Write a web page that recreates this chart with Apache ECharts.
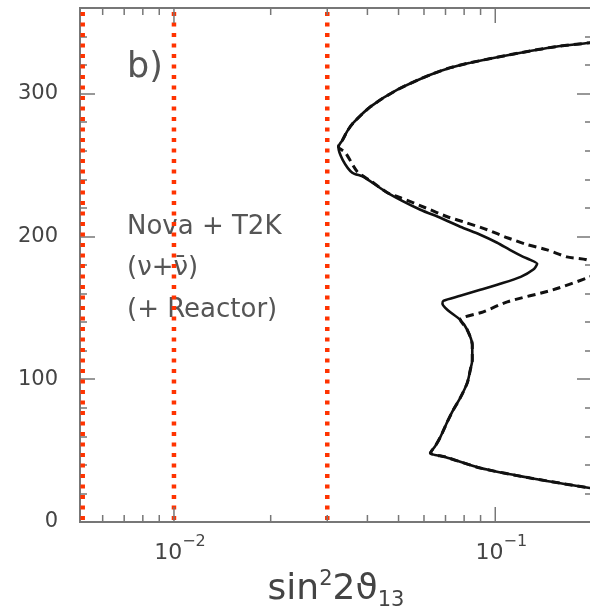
<!DOCTYPE html>
<html>
<head>
<meta charset="utf-8">
<script src="https://cdn.jsdelivr.net/npm/echarts@6/dist/echarts.min.js"></script>
<style>
  html, body { margin: 0; padding: 0; background: #fff; }
  #main { width: 590px; height: 607px; }
</style>
</head>
<body>
<div id="main"></div>
<script>
// solid curve: [sin^2 2theta13, delta]
const solidCurve = [
  [0.245, 339], [0.197, 335.7], [0.154, 332.9], [0.120, 328.7], [0.0836, 321.7],
  [0.0725, 318.2], [0.0628, 313.3], [0.0496, 302.8], [0.0409, 290.9], [0.0362, 279.7],
  [0.0347, 274.1], [0.0335, 267.7], [0.0325, 262.8], [0.0335, 253.7], [0.0359, 244.6],
  [0.0389, 241.8], [0.0462, 230.6], [0.0585, 218.7], [0.0675, 213.1], [0.0778, 206.8],
  [0.0898, 201.2], [0.1014, 195.6], [0.111, 190.6], [0.1222, 185.7], [0.1285, 183.6],
  [0.135, 180.8], [0.131, 176.6], [0.120, 171.7], [0.1036, 166.8], [0.0898, 162.6],
  [0.0778, 158.4], [0.0689, 154.9], [0.0685, 152.8], [0.0709, 148.6], [0.0778, 141.6],
  [0.0818, 134.6], [0.0848, 124.1], [0.0848, 113.5], [0.0836, 106.5], [0.0818, 97.4],
  [0.0778, 86.9], [0.0740, 78.5], [0.0709, 70.1], [0.0675, 59.6], [0.0651, 53.3],
  [0.0628, 48.4], [0.0699, 45.6], [0.0898, 37.8], [0.1285, 30.8], [0.197, 23.8],
  [0.263, 19.6]
];
// dashed curve
const dashedCurve = [
  [0.245, 339], [0.197, 335.7], [0.154, 332.9], [0.120, 328.7], [0.0836, 321.7],
  [0.0725, 318.2], [0.0628, 313.3], [0.0496, 302.8], [0.0409, 290.9], [0.0362, 279.7],
  [0.0347, 274.1], [0.0335, 267.7], [0.0325, 262.8], [0.0342, 258.6], [0.0372, 245.3],
  [0.0409, 239.0], [0.0462, 230.6], [0.0507, 227.1], [0.0606, 220.1], [0.0709, 213.8],
  [0.0795, 210.3], [0.0944, 204.7], [0.109, 199.1], [0.126, 194.2], [0.145, 190.6],
  [0.167, 185.7], [0.193, 183.6], [0.22, 177.3], [0.197, 171.7], [0.151, 162.6],
  [0.109, 154.2], [0.0918, 147.2], [0.0778, 141.6],
  [0.0818, 134.6], [0.0848, 124.1], [0.0848, 113.5], [0.0836, 106.5], [0.0818, 97.4],
  [0.0778, 86.9], [0.0740, 78.5], [0.0709, 70.1], [0.0675, 59.6], [0.0651, 53.3],
  [0.0628, 48.4], [0.0699, 45.6], [0.0898, 37.8], [0.1285, 30.8], [0.197, 23.8],
  [0.263, 19.6]
];
// red dotted limits
const limitLines = [0.0052, 0.01, 0.03];
// ticks
const xMajorTicks = [0.01, 0.1];
const xMinorTicks = [0.006, 0.007, 0.008, 0.009, 0.02, 0.03, 0.04, 0.05, 0.06, 0.07, 0.08, 0.09];
const yTickLabels = [0, 100, 200, 300];

const axisColor = '#777';
const textColor = '#444';
const font = 'DejaVu Sans';

const myChart = echarts.init(document.getElementById('main'));

const tickData = xMinorTicks.map(v => [v, 0]).concat(xMajorTicks.map(v => [v, 1]));

const renderTick = (params, api) => {
  const cs = params.coordSys;
  const px = api.coord([api.value(0), 100])[0];
  const len = api.value(1) ? 15 : 7;
  const bottom = cs.y + cs.height;
  const st = { stroke: axisColor, lineWidth: 1.5 };
  return {
    type: 'group',
    children: [
      { type: 'line', shape: { x1: px, y1: bottom, x2: px, y2: bottom - len }, style: st },
      { type: 'line', shape: { x1: px, y1: cs.y, x2: px, y2: cs.y + len }, style: st }
    ]
  };
};

// vertical red dotted line for each limit
const renderLimit = (params, api) => {
  const cs = params.coordSys;
  const px = api.coord([api.value(0), 100])[0];
  return {
    type: 'line',
    shape: { x1: px, y1: cs.y + 4, x2: px, y2: cs.y + cs.height },
    style: { stroke: '#ff3300', lineWidth: 4.5, lineDash: [4, 6.5] }
  };
};

const yAxisBase = (pos, showLabel) => ({
  type: 'value',
  position: pos,
  min: 0,
  max: 360,
  interval: 100,
  axisLine: { show: false },
  splitLine: { show: false },
  axisTick: { show: true, inside: true, length: 15, lineStyle: { color: axisColor, width: 1.5 } },
  minorTick: { show: true, splitNumber: 5, length: 7, lineStyle: { color: axisColor, width: 1.5 } },
  axisLabel: {
    show: showLabel,
    margin: 22,
    fontFamily: font,
    fontSize: 21,
    color: textColor,
    formatter: v => (yTickLabels.indexOf(v) >= 0 ? String(v) : '')
  }
});

const option = {
  animation: false,
  grid: {
    left: 80, right: -2, top: 8, bottom: 85,
    show: true,
    borderColor: axisColor,
    borderWidth: 2,
    containLabel: false,
    outerBoundsMode: 'none'
  },
  xAxis: {
    type: 'log',
    logBase: 10,
    min: 0.0051,
    max: 0.2,
    axisLine: { show: false },
    axisTick: { show: false },
    splitLine: { show: false },
    axisLabel: {
      margin: 12,
      padding: [0, 0, 0, 12],
      color: textColor,
      fontFamily: font,
      formatter: function (v) {
        const l = Math.log10(v);
        const e = Math.round(l);
        if (Math.abs(l - e) > 1e-6 || xMajorTicks.indexOf(Math.pow(10, e)) < 0) return '';
        return '{b|10}{s|\u2212' + (-e) + '}';
      },
      rich: {
        b: { fontFamily: font, fontSize: 22, color: textColor, lineHeight: 30, verticalAlign: 'bottom' },
        s: { fontFamily: font, fontSize: 16, color: textColor, lineHeight: 14, verticalAlign: 'top' }
      }
    },
    name: '{a|sin}{s|2}{a|2\u03d1}{u|13}',
    nameLocation: 'middle',
    nameGap: 28,
    nameTextStyle: {
      rich: {
        a: { fontFamily: font, fontSize: 36, color: textColor, lineHeight: 42, verticalAlign: 'middle' },
        s: { fontFamily: font, fontSize: 21, color: textColor, lineHeight: 22, verticalAlign: 'top' },
        u: { fontFamily: font, fontSize: 21, color: textColor, lineHeight: 18, verticalAlign: 'bottom' }
      }
    }
  },
  yAxis: [yAxisBase('left', true), yAxisBase('right', false)],
  graphic: [
    { type: 'text', left: 127, top: 50, style: { text: 'b)', font: '35px "DejaVu Sans"', fill: '#555' } },
    { type: 'text', left: 127, top: 214, style: { text: 'Nova + T2K', font: '26px "DejaVu Sans"', fill: '#555' } },
    { type: 'text', left: 127, top: 255, style: { text: '(\u03bd+\u03bd\u0304)', font: '26px "DejaVu Sans"', fill: '#555' } },
    { type: 'text', left: 127, top: 297, style: { text: '(+ Reactor)', font: '26px "DejaVu Sans"', fill: '#555' } }
  ],
  series: [
    {
      name: 'limits',
      type: 'custom',
      data: limitLines.map(v => [v, 0]),
      encode: { x: 0, y: 1 },
      renderItem: renderLimit,
      silent: true,
      z: 2
    },
    {
      name: 'solid',
      type: 'line',
      data: solidCurve,
      symbol: 'none',
      smooth: 0.25,
      lineStyle: { color: '#111', width: 2.6 },
      z: 3
    },
    {
      name: 'dashed',
      type: 'line',
      data: dashedCurve,
      symbol: 'none',
      smooth: 0.25,
      lineStyle: { color: '#111', width: 3, type: [8, 5] },
      z: 4
    },
    {
      name: 'ticks',
      type: 'custom',
      data: tickData,
      encode: { x: 0, y: 1 },
      renderItem: renderTick,
      silent: true,
      z: 5
    }
  ]
};

myChart.setOption(option);
</script>
</body>
</html>
